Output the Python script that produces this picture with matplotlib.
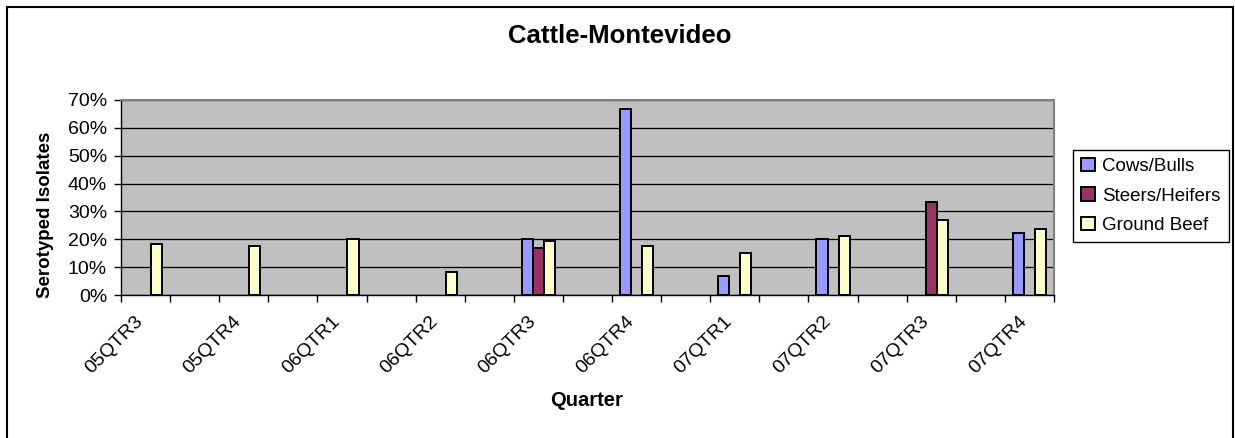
import numpy as np
import matplotlib.pyplot as plt
import matplotlib.transforms as mtransforms
from matplotlib.patches import Rectangle

plt.rcParams['font.family'] = ['Liberation Sans', 'DejaVu Sans']

# data (percent of serotyped isolates)
quarters = ['05QTR3', '05QTR4', '06QTR1', '06QTR2', '06QTR3',
            '06QTR4', '07QTR1', '07QTR2', '07QTR3', '07QTR4']
cows_bulls = [0, 0, 0, 0, 20.0, 66.7, 6.7, 20.0, 0, 22.2]
steers_heifers = [0, 0, 0, 0, 16.7, 0, 0, 0, 33.3, 0]
ground_beef = [18.2, 17.6, 20.0, 8.1, 19.4, 17.6, 15.0, 21.3, 27.1, 23.8]

series = [('Cows/Bulls', cows_bulls, '#9999FF'),
          ('Steers/Heifers', steers_heifers, '#993366'),
          ('Ground Beef', ground_beef, '#FFFFCC')]

W, H = 1235, 438
fig = plt.figure(figsize=(W / 100, H / 100), dpi=100)
ax = fig.add_axes([121 / W, 1 - 295 / H, (1054 - 121) / W, (295 - 100) / H])
ax.set_facecolor('#C0C0C0')

# categories sit on every second slot of a 19-slot axis
pos = np.arange(len(quarters)) * 2
bw = 0.225
handles = []
for j, (name, vals, col) in enumerate(series):
    vals = np.array(vals, dtype=float)
    vals[vals == 0] = np.nan
    b = ax.bar(pos + (j - 1) * bw, vals, bw, color=col, edgecolor='black',
               linewidth=1.4, zorder=3, label=name)
    handles.append(b)

ax.set_xlim(-0.5, 18.5)
ax.set_ylim(0, 70)
ax.set_yticks(np.arange(0, 71, 10))
ax.set_yticklabels([f'{v}%' for v in range(0, 71, 10)], fontsize=14)
ax.yaxis.grid(True, color='black', linewidth=0.9, zorder=1)
ax.tick_params(axis='y', length=5, width=1, pad=5)

ax.set_xticks(np.arange(-0.5, 19, 1), minor=True)
ax.tick_params(axis='x', which='minor', length=5, width=1)
ax.set_xticks(pos)
ax.set_xticklabels(quarters, rotation=45, ha='right', va='center',
                   rotation_mode='anchor', fontsize=14)
ax.tick_params(axis='x', which='major', length=0, pad=17)
shift = mtransforms.ScaledTranslation(-5 / 100, 0, fig.dpi_scale_trans)
for lab in ax.get_xticklabels():
    lab.set_transform(lab.get_transform() + shift)

for s in ['top', 'right']:
    ax.spines[s].set_color('#808080')
    ax.spines[s].set_linewidth(1.5)
for s in ['left', 'bottom']:
    ax.spines[s].set_color('black')
    ax.spines[s].set_linewidth(1)

fig.text(620 / W, 1 - 36 / H, 'Cattle-Montevideo', ha='center', va='center',
         fontsize=18.5, fontweight='bold')
fig.text(587 / W, 1 - 400 / H, 'Quarter', ha='center', va='center',
         fontsize=14.5, fontweight='bold')
fig.text(46 / W, 1 - 215 / H, 'Serotyped Isolates', ha='center', va='center',
         rotation=90, fontsize=13.5, fontweight='bold')

leg = fig.legend(handles=handles, loc='center left',
                 bbox_to_anchor=(1073 / W, 1 - 196 / H), fontsize=13.5,
                 handlelength=0.7, handleheight=0.7, handletextpad=0.4,
                 labelspacing=0.65, borderpad=0.45, borderaxespad=0,
                 fancybox=False, framealpha=1, edgecolor='black')
leg.get_frame().set_linewidth(1)

# outer chart border
fig.patches.append(Rectangle((7 / W, -0.1), (1233 - 7) / W, 1 - 7 / H + 0.1,
                             transform=fig.transFigure, fill=False,
                             edgecolor='black', linewidth=1.5))

fig.savefig('out.png', dpi=100)
